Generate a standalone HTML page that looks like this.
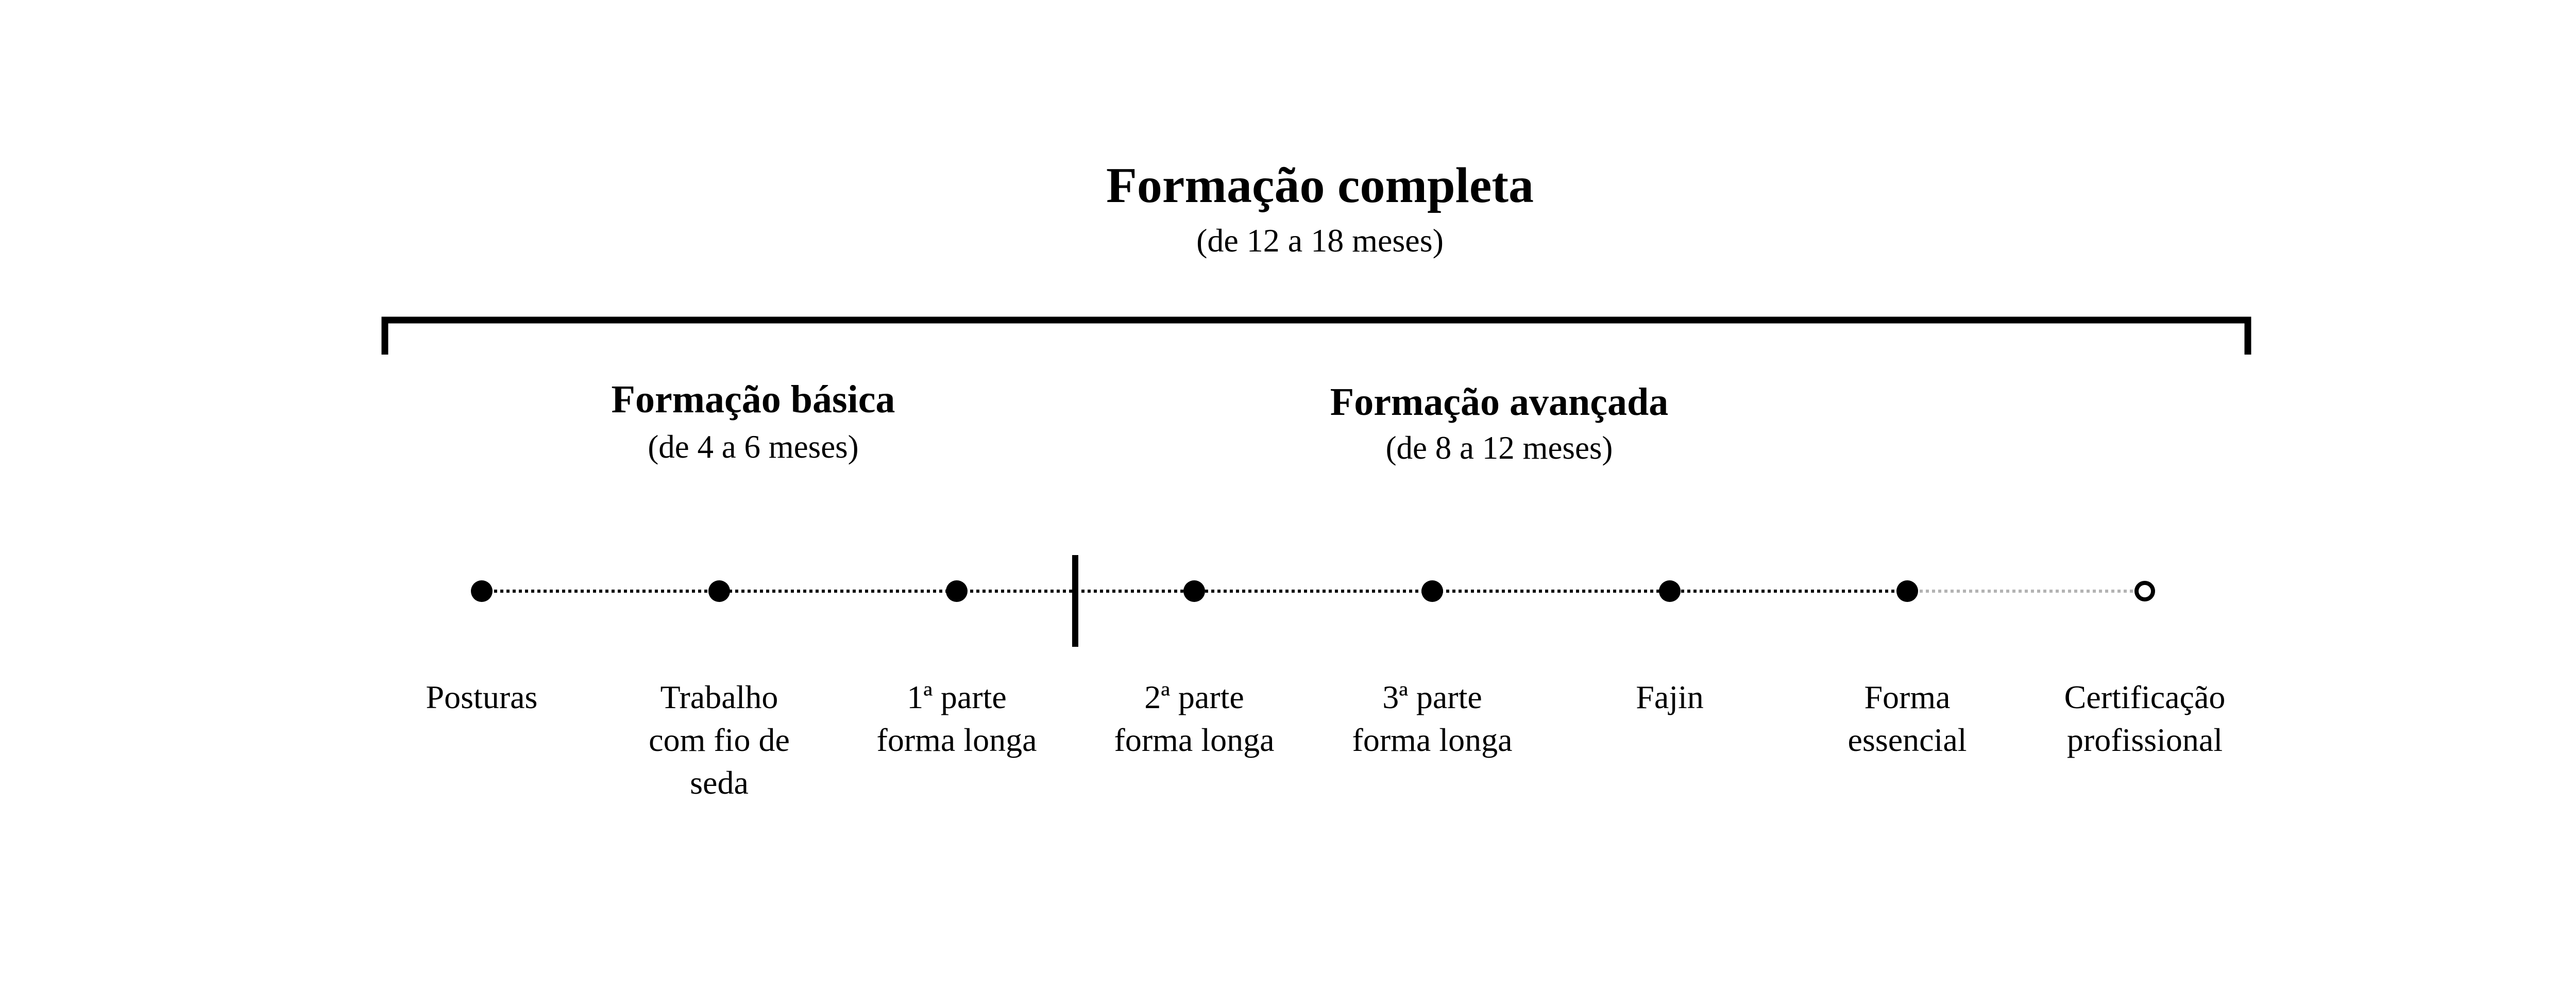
<!DOCTYPE html>
<html><head><meta charset="utf-8"><style>
html,body{margin:0;padding:0;background:#fff;}
svg{display:block;}
text{font-family:"Liberation Serif",serif;fill:#000;}
</style></head><body>
<svg width="5125" height="1950" viewBox="0 0 5125 1950" xmlns="http://www.w3.org/2000/svg">
<rect width="5125" height="1950" fill="#fff"/>
<text x="2562" y="392" font-size="98" font-weight="bold" text-anchor="middle">Formação completa</text>
<text x="2562" y="488" font-size="64" text-anchor="middle">(de 12 a 18 meses)</text>
<path d="M747 688 V621 H4363 V688" fill="none" stroke="#000" stroke-width="13"/>
<text x="1462" y="800" font-size="76" font-weight="bold" text-anchor="middle">Formação básica</text>
<text x="1462" y="888" font-size="63" text-anchor="middle">(de 4 a 6 meses)</text>
<text x="2910" y="805" font-size="76" font-weight="bold" text-anchor="middle">Formação avançada</text>
<text x="2910" y="890" font-size="63" text-anchor="middle">(de 8 a 12 meses)</text>
<line x1="935" y1="1147" x2="3702" y2="1147" stroke="#000" stroke-width="6" stroke-dasharray="6 6"/>
<line x1="3702" y1="1147" x2="4163" y2="1147" stroke="#b3b3b3" stroke-width="6" stroke-dasharray="6 6"/>
<line x1="2087" y1="1077" x2="2087" y2="1255" stroke="#000" stroke-width="12"/>
<g fill="#000">
<circle cx="935" cy="1147" r="21"/><circle cx="1396" cy="1147" r="21"/><circle cx="1857" cy="1147" r="21"/>
<circle cx="2318" cy="1147" r="21"/><circle cx="2780" cy="1147" r="21"/><circle cx="3241" cy="1147" r="21"/>
<circle cx="3702" cy="1147" r="21"/>
</g>
<circle cx="4163" cy="1147" r="16" fill="#fff" stroke="#000" stroke-width="8"/>
<g font-size="64" text-anchor="middle">
<text x="935" y="1374">Posturas</text>
<text x="1396" y="1374">Trabalho</text><text x="1396" y="1457">com fio de</text><text x="1396" y="1540">seda</text>
<text x="1857" y="1374">1ª parte</text><text x="1857" y="1457">forma longa</text>
<text x="2318" y="1374">2ª parte</text><text x="2318" y="1457">forma longa</text>
<text x="2780" y="1374">3ª parte</text><text x="2780" y="1457">forma longa</text>
<text x="3241" y="1374">Fajin</text>
<text x="3702" y="1374">Forma</text><text x="3702" y="1457">essencial</text>
<text x="4163" y="1374">Certificação</text><text x="4163" y="1457">profissional</text>
</g>
</svg>
</body></html>
